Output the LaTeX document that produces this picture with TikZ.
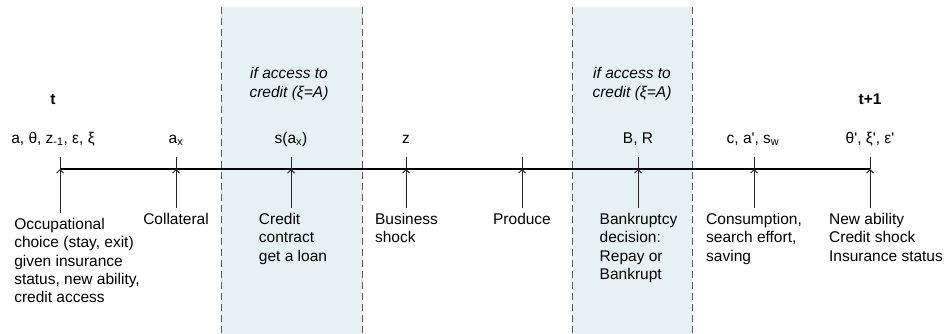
\documentclass[tikz,border=0pt]{standalone}
\usepackage{fontspec}
\setmainfont{Liberation Sans}[Ligatures=TeXOff]
\usetikzlibrary{arrows.meta,positioning}
\definecolor{creditbox}{RGB}{230,241,244}
\definecolor{edgegray}{RGB}{90,90,90}
\newcommand{\labelfont}{\fontsize{15.5}{18.3}\selectfont}
\tikzset{
  zone/.style={
    fill=creditbox,
    draw=none,
    inner sep=0pt,
    minimum width=#1,
    minimum height=327
  },
  zoneedge/.style={draw=edgegray, line width=1pt, dash pattern=on 7pt off 4pt},
  timeline/.style={line width=2pt, black},
  tick/.style={line width=0.9pt, black!85},
  event/.style={-{Straight Barb[length=3.5pt,width=7pt,line width=1pt]}, line width=0.9pt, black!85},
  state/.style={anchor=base, inner sep=1pt},
  period/.style={anchor=base, inner sep=1pt, font=\labelfont\bfseries},
  hint/.style={align=center, font=\labelfont\itshape},
  note/.style={align=left, anchor=north, inner sep=5pt}
}

\begin{document}
\begin{tikzpicture}[x=1pt, y=-1pt, font=\labelfont]
        \useasboundingbox (0,0) rectangle (949,334);
        % shaded credit-access phases
        \node[zone=140] (zoneA) at (292,170.5) {};
        \node[zone=119] (zoneB) at (632.5,170.5) {};
        \draw[zoneedge] (zoneA.north west) -- (zoneA.south west);
        \draw[zoneedge] (zoneA.north east) -- (zoneA.south east);
        \draw[zoneedge] (zoneB.north west) -- (zoneB.south west);
        \draw[zoneedge] (zoneB.north east) -- (zoneB.south east);
        \node[hint] (hintA) at (289,84) {if access to\\credit (ξ=A)};
        \node[hint] (hintB) at (632,84) {if access to\\credit (ξ=A)};

        % events along the period
        \coordinate (e1) at (60,169);
        \coordinate (e2) at (176,169);
        \coordinate (e3) at (291,169);
        \coordinate (e4) at (406,169);
        \coordinate (e5) at (522,169);
        \coordinate (e6) at (638,169);
        \coordinate (e7) at (754,169);
        \coordinate (e8) at (870,169);
        \draw[timeline] (e1) -- (e8);
        \draw[tick] (e1) -- ++(0,-12);
        \draw[tick] (e2) -- ++(0,-12);
        \draw[tick] (e3) -- ++(0,-12);
        \draw[tick] (e4) -- ++(0,-12);
        \draw[tick] (e5) -- ++(0,-12);
        \draw[tick] (e6) -- ++(0,-12);
        \draw[tick] (e7) -- ++(0,-12);
        \draw[tick] (e8) -- ++(0,-12);

        % states known at each stage
        \node[period] (tnow) at (53,105) {t};
        \node[period] (tnext) at (870,105) {t+1};
        \node[state] (s1) at (53,143) {a, θ, z\textsubscript{-1}, ε, ξ};
        \node[state] (s2) at (176,143) {a\textsubscript{x}};
        \node[state] (s3) at (291,143) {s(a\textsubscript{x})};
        \node[state] (s4) at (406,143) {z};
        \node[state] (s5) at (638,143) {B, R};
        \node[state] (s6) at (753,143) {c, a', s\textsubscript{w}};
        \node[state] (s7) at (870,143) {θ', ξ', ε'};

        % what happens at each stage
        \node[note] (n1) at (77,213) {Occupational\\choice (stay, exit)\\given insurance\\status, new ability,\\credit access};
        \node[note] (n2) at (176,208) {Collateral};
        \node[note] (n3) at (293,208) {Credit\\contract\\get a loan};
        \node[note] (n4) at (406.5,208) {Business\\shock};
        \node[note] (n5) at (522,208) {Produce};
        \node[note] (n6) at (638.5,208) {Bankruptcy\\decision:\\Repay or\\Bankrupt};
        \node[note] (n7) at (754,208) {Consumption,\\search effort,\\saving};
        \node[note] (n8) at (886,208) {New ability\\Credit shock\\Insurance status};
        \draw[event] (n1.north -| e1) -- (e1);
        \draw[event] (n2) -- (e2);
        \draw[event] (n3.north -| e3) -- (e3);
        \draw[event] (n4.north -| e4) -- (e4);
        \draw[event] (n5) -- (e5);
        \draw[event] (n6.north -| e6) -- (e6);
        \draw[event] (n7.north -| e7) -- (e7);
        \draw[event] (n8.north -| e8) -- (e8);
      \end{tikzpicture}
\end{document}
